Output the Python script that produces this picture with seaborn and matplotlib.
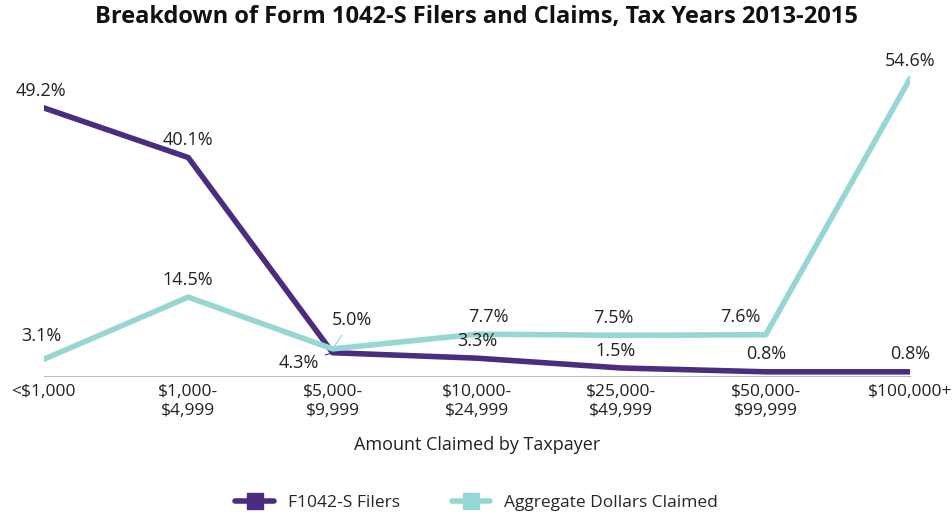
import numpy as np
import pandas as pd
import matplotlib.pyplot as plt
import seaborn as sns
from matplotlib.lines import Line2D

categories = ["<$1,000", "$1,000-\n$4,999", "$5,000-\n$9,999", "$10,000-\n$24,999",
              "$25,000-\n$49,999", "$50,000-\n$99,999", "$100,000+"]
filers = [49.2, 40.1, 4.3, 3.3, 1.5, 0.8, 0.8]
dollars = [3.1, 14.5, 5.0, 7.7, 7.5, 7.6, 54.6]

purple = "#4b2c7f"
teal = "#96d7d4"

sns.set_style("white")
plt.rcParams['font.family'] = ['Open Sans', 'DejaVu Sans']

df = pd.DataFrame({
    "x": list(range(len(categories))) * 2,
    "value": filers + dollars,
    "series": ["F1042-S Filers"] * len(filers) + ["Aggregate Dollars Claimed"] * len(dollars),
})

fig = plt.figure(figsize=(9.53, 5.16), dpi=100)
ax = fig.add_axes([0.046, 0.271, 0.909, 0.634])
sns.lineplot(data=df, x="x", y="value", hue="series", palette=[purple, teal],
             linewidth=4, ax=ax, legend=False)

ax.set_xlim(0, 6)
ax.set_ylim(0, 60)
ax.set_yticks([])
ax.set_xticks(range(len(categories)))
ax.set_xticklabels(categories, fontsize=12.5, color="#222222")
ax.tick_params(axis="x", length=0, pad=6)
for s in ["top", "right", "left"]:
    ax.spines[s].set_visible(False)
ax.spines["bottom"].set_color("#bbbbbb")
ax.set_xlabel("Amount Claimed by Taxpayer", fontsize=13, labelpad=12, color="#222222")
ax.set_ylabel("")

# labels (offsets in points)
f_off = [(-2, 6), (0, 6), (-24, -14), (0, 6), (-4, 6), (0, 6), (0, 6)]
d_off = [(-2, 10), (0, 6), (14, 14), (8, 6), (-6, 6), (-18, 6), (0, 6)]
for i, v in enumerate(filers):
    lead = i == 2
    ax.annotate(f"{v:.1f}%", (i, v), xytext=f_off[i], textcoords="offset points",
                ha="center", va="bottom", fontsize=13, color="#222222",
                arrowprops=dict(arrowstyle="-", color=purple, lw=0.8) if lead else None,
                annotation_clip=False)
for i, v in enumerate(dollars):
    lead = i == 2
    ax.annotate(f"{v:.1f}%", (i, v), xytext=d_off[i], textcoords="offset points",
                ha="center", va="bottom", fontsize=13, color="#222222",
                arrowprops=dict(arrowstyle="-", color=teal, lw=0.8) if lead else None,
                annotation_clip=False)

fig.suptitle("Breakdown of Form 1042-S Filers and Claims, Tax Years 2013-2015",
             fontsize=17, fontweight="bold", y=0.99, color="#111111")

handles = [Line2D([0], [0], color=purple, lw=4, marker="s", markersize=12),
           Line2D([0], [0], color=teal, lw=4, marker="s", markersize=12)]
fig.legend(handles, ["F1042-S Filers", "Aggregate Dollars Claimed"], loc="lower center",
           bbox_to_anchor=(0.5, -0.02), ncol=2, frameon=False, fontsize=12.5,
           handlelength=2.2, columnspacing=3)

fig.savefig("out.png", dpi=100)
